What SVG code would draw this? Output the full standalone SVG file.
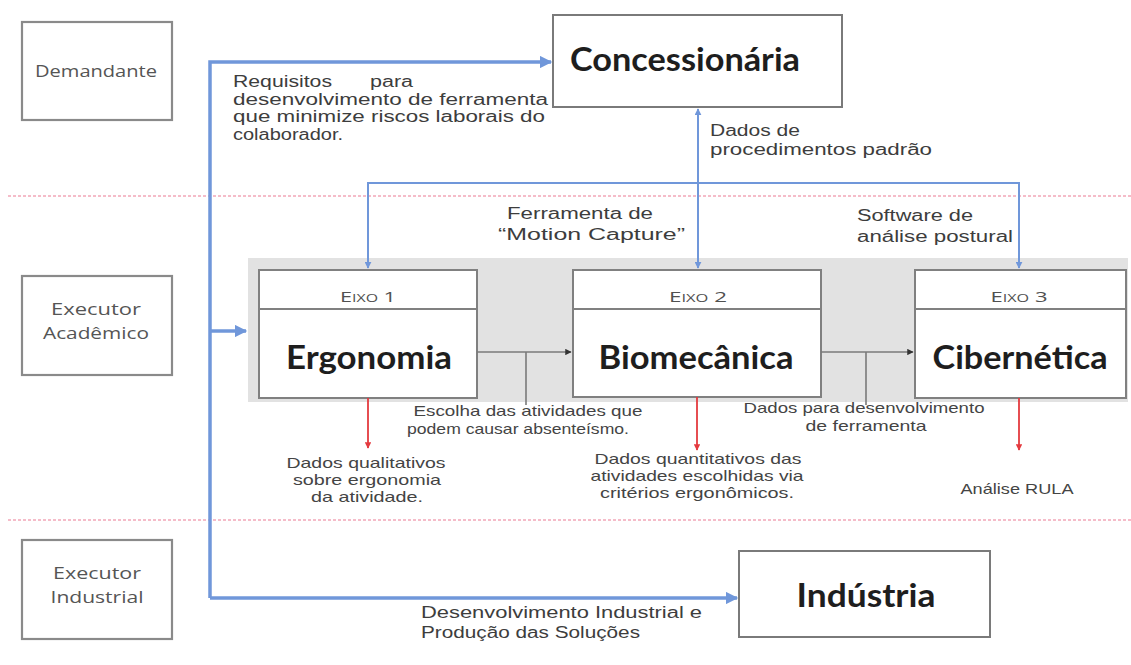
<svg xmlns="http://www.w3.org/2000/svg" width="1131" height="665" viewBox="0 0 1131 665">
<defs>
<style>
.lane{fill:#fff;stroke:#8a8a8a;stroke-width:2.2}
.box{fill:#fff;stroke:#7a7a7a;stroke-width:2}
.eixo{fill:#fff;stroke:#808080;stroke-width:2}
.t{font-family:"Liberation Sans",Arial,sans-serif;fill:#3d3d3d}
.ln{font-family:"Open Sans",sans-serif;font-size:16px;fill:#555}
.lab{font-size:16px}
.sm{font-size:15px;fill:#444}
.big{font-family:Lato,"Open Sans",sans-serif;font-weight:bold;fill:#1e1e1e;font-size:33px}
.cap{font-family:"Open Sans",sans-serif;font-size:15px;font-variant:small-caps;fill:#505050}
.blue{fill:none;stroke:#7097da;stroke-width:3.5}
.bluet{fill:none;stroke:#7097da;stroke-width:2}
.grey{fill:none;stroke:#7a7a7a;stroke-width:1.6}
.red{fill:none;stroke:#e43a3f;stroke-width:1.8}
.pink{fill:none;stroke:#f2a6b8;stroke-width:1.6;stroke-dasharray:3 2}
</style>
<marker id="ab" viewBox="0 0 10 10" refX="9" refY="5" markerWidth="4" markerHeight="3.5" orient="auto" markerUnits="strokeWidth">
<path d="M0,0 L10,5 L0,10 z" fill="#7097da"/>
</marker>
<marker id="abt" viewBox="0 0 10 10" refX="9" refY="5" markerWidth="3.5" markerHeight="3.5" orient="auto-start-reverse" markerUnits="strokeWidth">
<path d="M0,0 L10,5 L0,10 z" fill="#7097da"/>
</marker>
<marker id="ag" viewBox="0 0 10 10" refX="9" refY="5" markerWidth="4" markerHeight="4" orient="auto" markerUnits="strokeWidth">
<path d="M0,0 L10,5 L0,10 z" fill="#333"/>
</marker>
<marker id="ar" viewBox="0 0 10 10" refX="9" refY="5" markerWidth="3.5" markerHeight="3.5" orient="auto" markerUnits="strokeWidth">
<path d="M0,0 L10,5 L0,10 z" fill="#e43a3f"/>
</marker>
</defs>
<rect width="1131" height="665" fill="#fff"/>

<g id="lanes">
<path class="pink" d="M8,196 H1131"/>
<path class="pink" d="M8,520 H1131"/>
</g>

<g id="demandante">
<rect class="lane" x="22" y="22" width="150" height="98"/>
<text class="ln" x="96" y="77" text-anchor="middle" textLength="122" lengthAdjust="spacingAndGlyphs">Demandante</text>
</g>
<g id="executor-academico">
<rect class="lane" x="22" y="276" width="150" height="99"/>
<text class="ln" x="96" y="315" text-anchor="middle" textLength="90" lengthAdjust="spacingAndGlyphs">Executor</text>
<text class="ln" x="96" y="339" text-anchor="middle" textLength="106" lengthAdjust="spacingAndGlyphs">Acadêmico</text>
</g>
<g id="executor-industrial">
<rect class="lane" x="22" y="540" width="150" height="99"/>
<text class="ln" x="97" y="579" text-anchor="middle" textLength="88" lengthAdjust="spacingAndGlyphs">Executor</text>
<text class="ln" x="97" y="603" text-anchor="middle" textLength="93" lengthAdjust="spacingAndGlyphs">Industrial</text>
</g>

<g id="eixos-bg">
<rect x="248" y="258" width="880" height="144" fill="#e2e2e2"/>
</g>

<g id="concessionaria">
<rect class="box" x="553" y="15" width="289" height="92"/>
<text class="big" x="570" y="71" textLength="230" lengthAdjust="spacingAndGlyphs">Concessionária</text>
</g>

<g id="eixo1">
<rect class="eixo" x="259" y="270" width="218" height="128"/>
<path d="M259,309 H477" stroke="#808080" stroke-width="2"/>
<text class="cap" x="368" y="302" text-anchor="middle" textLength="56" lengthAdjust="spacingAndGlyphs">Eixo 1</text>
<text class="big" x="369" y="369" text-anchor="middle" textLength="166" lengthAdjust="spacingAndGlyphs">Ergonomia</text>
</g>
<g id="eixo2">
<rect class="eixo" x="573" y="270" width="248" height="127"/>
<path d="M573,309 H821" stroke="#808080" stroke-width="2"/>
<text class="cap" x="698" y="302" text-anchor="middle" textLength="58" lengthAdjust="spacingAndGlyphs">Eixo 2</text>
<text class="big" x="696" y="369" text-anchor="middle" textLength="195" lengthAdjust="spacingAndGlyphs">Biomecânica</text>
</g>
<g id="eixo3">
<rect class="eixo" x="915" y="270" width="211" height="128"/>
<path d="M915,309 H1126" stroke="#808080" stroke-width="2"/>
<text class="cap" x="1019" y="302" text-anchor="middle" textLength="57" lengthAdjust="spacingAndGlyphs">Eixo 3</text>
<text class="big" x="1020" y="369" text-anchor="middle" textLength="175" lengthAdjust="spacingAndGlyphs">Cibernética</text>
</g>

<g id="industria">
<rect class="box" x="739" y="551" width="251" height="86"/>
<text class="big" x="866" y="607" text-anchor="middle" textLength="139" lengthAdjust="spacingAndGlyphs">Indústria</text>
</g>

<g id="connectors">
<path class="blue" d="M210,598 V62 H551" marker-end="url(#ab)"/>
<path class="blue" d="M210,598 H737" marker-end="url(#ab)"/>
<path class="blue" d="M210,331 H246" marker-end="url(#ab)"/>
<path class="bluet" d="M368,268 V183 H1019 V268" marker-start="url(#abt)" marker-end="url(#abt)"/>
<path class="bluet" d="M698,109 V268" marker-start="url(#abt)" marker-end="url(#abt)"/>
<path class="grey" d="M477,352 H571" marker-end="url(#ag)"/>
<path class="grey" d="M526,352 V405"/>
<path class="grey" d="M821,352 H913" marker-end="url(#ag)"/>
<path class="grey" d="M866,352 V405"/>
<path class="red" d="M368,398 V448" marker-end="url(#ar)"/>
<path class="red" d="M697,397 V450" marker-end="url(#ar)"/>
<path class="red" d="M1019,398 V450" marker-end="url(#ar)"/>
</g>

<g id="labels">
<text class="t lab" y="87"><tspan x="233" textLength="99" lengthAdjust="spacingAndGlyphs">Requisitos</tspan><tspan x="370" textLength="43" lengthAdjust="spacingAndGlyphs">para</tspan></text>
<text class="t lab" x="233" y="104.5" textLength="315" lengthAdjust="spacingAndGlyphs">desenvolvimento de ferramenta</text>
<text class="t lab" x="233" y="122" textLength="312" lengthAdjust="spacingAndGlyphs">que minimize riscos laborais do</text>
<text class="t lab" x="233" y="139.5" textLength="110" lengthAdjust="spacingAndGlyphs">colaborador.</text>
<text class="t lab" x="710" y="136" textLength="90" lengthAdjust="spacingAndGlyphs">Dados de</text>
<text class="t lab" x="710" y="155" textLength="222" lengthAdjust="spacingAndGlyphs">procedimentos padrão</text>
<text class="t lab" x="507" y="219" textLength="146" lengthAdjust="spacingAndGlyphs">Ferramenta de</text>
<text class="t lab" x="498" y="240" textLength="187" lengthAdjust="spacingAndGlyphs">“Motion Capture”</text>
<text class="t lab" x="857" y="221" textLength="116" lengthAdjust="spacingAndGlyphs">Software de</text>
<text class="t lab" x="857" y="242" textLength="156" lengthAdjust="spacingAndGlyphs">análise postural</text>
<text class="t sm" x="528" y="416" text-anchor="middle" textLength="229" lengthAdjust="spacingAndGlyphs">Escolha das atividades que</text>
<text class="t sm" x="518" y="434" text-anchor="middle" textLength="222" lengthAdjust="spacingAndGlyphs">podem causar absenteísmo.</text>
<text class="t sm" x="864" y="413" text-anchor="middle" textLength="241" lengthAdjust="spacingAndGlyphs">Dados para desenvolvimento</text>
<text class="t sm" x="866" y="431" text-anchor="middle" textLength="121" lengthAdjust="spacingAndGlyphs">de ferramenta</text>
<text class="t sm" x="366" y="468" text-anchor="middle" textLength="159" lengthAdjust="spacingAndGlyphs">Dados qualitativos</text>
<text class="t sm" x="367" y="485" text-anchor="middle" textLength="148" lengthAdjust="spacingAndGlyphs">sobre ergonomia</text>
<text class="t sm" x="367" y="502" text-anchor="middle" textLength="112" lengthAdjust="spacingAndGlyphs">da atividade.</text>
<text class="t sm" x="698" y="464" text-anchor="middle" textLength="207" lengthAdjust="spacingAndGlyphs">Dados quantitativos das</text>
<text class="t sm" x="697" y="481" text-anchor="middle" textLength="213" lengthAdjust="spacingAndGlyphs">atividades escolhidas via</text>
<text class="t sm" x="697" y="498" text-anchor="middle" textLength="194" lengthAdjust="spacingAndGlyphs">critérios ergonômicos.</text>
<text class="t sm" x="1017" y="494" text-anchor="middle" textLength="113" lengthAdjust="spacingAndGlyphs">Análise RULA</text>
<text class="t lab" x="421" y="618" textLength="281" lengthAdjust="spacingAndGlyphs">Desenvolvimento Industrial e</text>
<text class="t lab" x="421" y="638" textLength="219" lengthAdjust="spacingAndGlyphs">Produção das Soluções</text>
</g>
</svg>
